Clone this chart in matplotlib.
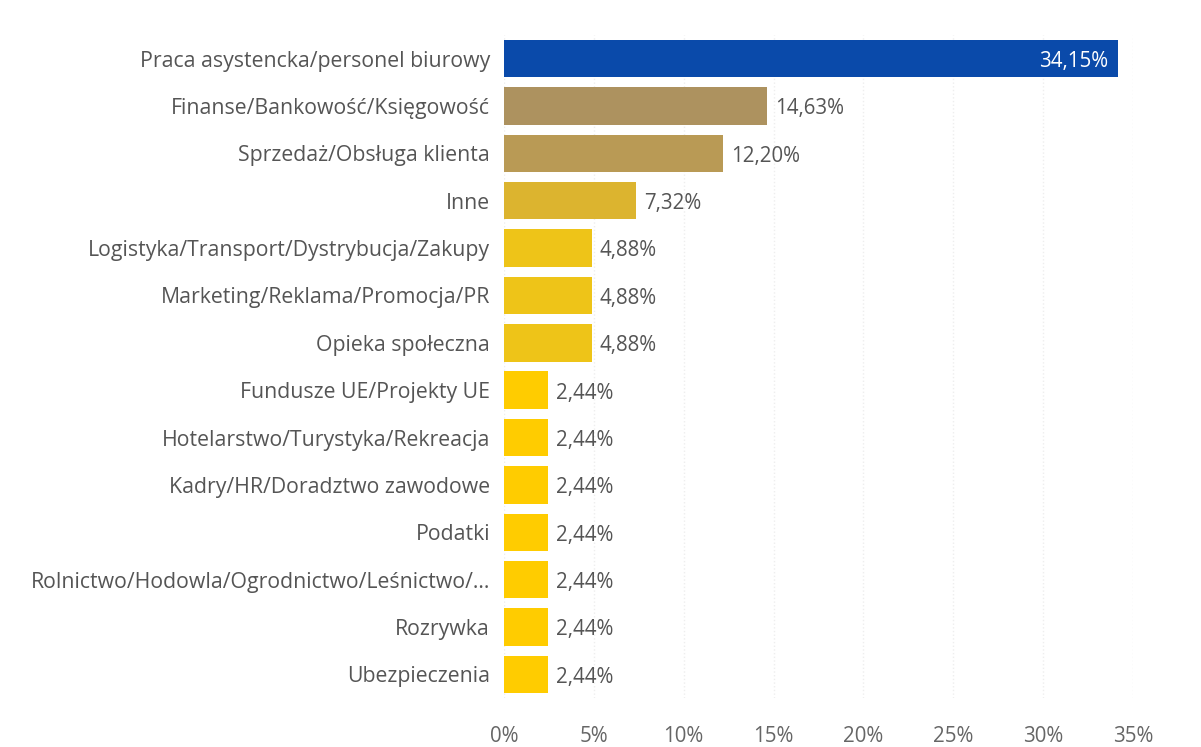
import matplotlib
matplotlib.use('Agg')
import matplotlib.pyplot as plt

plt.rcParams['font.family'] = ['Open Sans', 'DejaVu Sans']

categories = ['Praca asystencka/personel biurowy', 'Finanse/Bankowość/Księgowość',
              'Sprzedaż/Obsługa klienta', 'Inne', 'Logistyka/Transport/Dystrybucja/Zakupy',
              'Marketing/Reklama/Promocja/PR', 'Opieka społeczna', 'Fundusze UE/Projekty UE',
              'Hotelarstwo/Turystyka/Rekreacja', 'Kadry/HR/Doradztwo zawodowe', 'Podatki',
              'Rolnictwo/Hodowla/Ogrodnictwo/Leśnictwo/...', 'Rozrywka', 'Ubezpieczenia']
values = [34.15, 14.63, 12.20, 7.32, 4.88, 4.88, 4.88, 2.44, 2.44, 2.44, 2.44, 2.44, 2.44, 2.44]
colors = ['#0A4AAA', '#AD925F', '#B99A55', '#DCB42F', '#EEC418', '#EEC418', '#EEC418',
          '#FFCC00', '#FFCC00', '#FFCC00', '#FFCC00', '#FFCC00', '#FFCC00', '#FFCC00']
xticks = [0, 5, 10, 15, 20, 25, 30, 35]

fig = plt.figure(figsize=(12.01, 7.47), dpi=100)
ax = fig.add_axes([504 / 1201, 1 - 698 / 747, 629 / 1201, 663 / 747])

y = list(range(len(categories)))
ax.barh(y, values, height=0.79, color=colors, zorder=2)
ax.set_ylim(len(categories) - 0.5, -0.5)
ax.set_xlim(0, 35)

for i, v in enumerate(values):
    txt = f'{v:.2f}%'.replace('.', ',')
    if i == 0:
        ax.text(v - 0.55, i + 0.06, txt, ha='right', va='center', color='white', fontsize=14.8)
    else:
        ax.text(v + 0.45, i + 0.06, txt, ha='left', va='center', color='#555555', fontsize=14.8)

ax.set_yticks(y)
ax.set_yticklabels(categories, fontsize=15.3, color='#555555')
ax.set_xticks(xticks)
ax.set_xticklabels([f'{t}%' for t in xticks], fontsize=14.8, color='#666666')
ax.tick_params(length=0)
ax.tick_params(axis='y', pad=10)
ax.tick_params(axis='x', pad=20)
ax.xaxis.grid(True, color='#EEEEEE', linestyle=':', linewidth=1, zorder=0)
for s in ax.spines.values():
    s.set_visible(False)

fig.savefig('out.png', dpi=100, facecolor='white')
